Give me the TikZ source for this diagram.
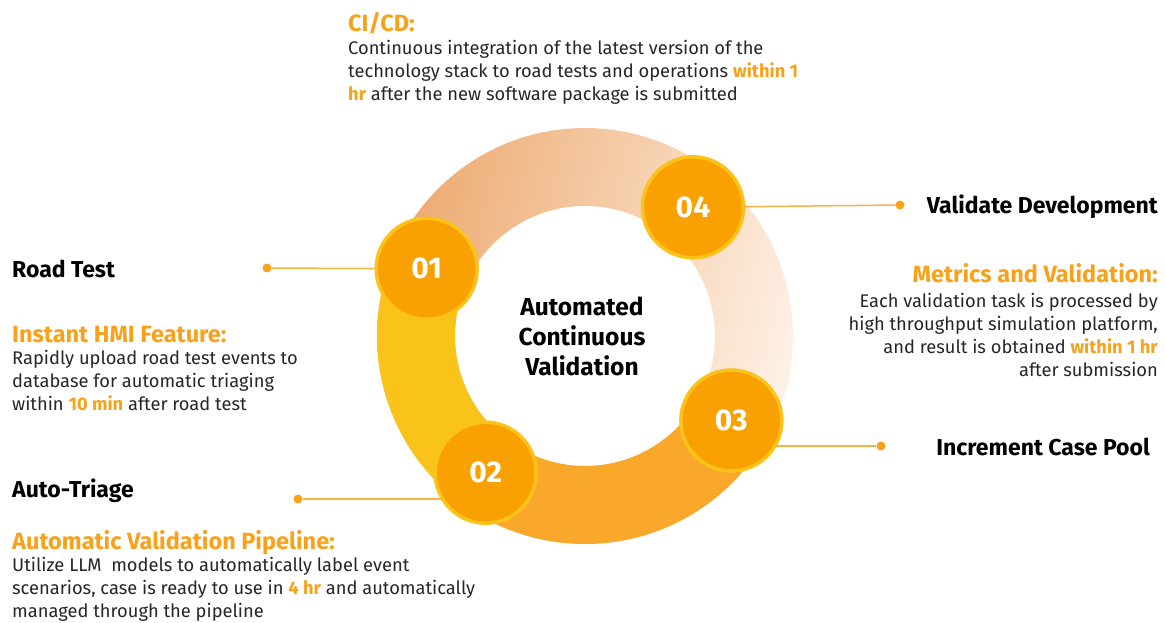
\documentclass[tikz,border=0pt]{standalone}
\usepackage{fontspec}
\setmainfont{Fira Sans}
\usetikzlibrary{backgrounds}

\definecolor{accent}{HTML}{F8A11B}
\definecolor{bodytext}{HTML}{262626}
\definecolor{ringyellow}{HTML}{F9C31A}
\definecolor{ringorange}{HTML}{F9A82B}
\definecolor{ringdark}{HTML}{EDAA70}
\definecolor{ringlight}{HTML}{FDF1E6}
\definecolor{circfill}{HTML}{F9A003}
\definecolor{circborder}{HTML}{FBC31A}
\definecolor{linkcol}{HTML}{F9B24A}

\newcommand{\hilite}[1]{\textbf{\textcolor{accent}{#1}}}

\begin{document}
\begin{tikzpicture}[x=1pt, y=-1pt,
    numcircle/.style={circle, fill=circfill, draw=circborder, line width=3.5pt,
        minimum size=101pt, inner sep=0pt, text=white,
        font=\bfseries\fontsize{30}{30}\selectfont},
    dot/.style={circle, fill=accent, inner sep=0pt, minimum size=9pt},
    link/.style={draw=linkcol, line width=1.5pt},
    heading/.style={font=\bfseries\fontsize{23}{27}\selectfont, text=black, inner sep=0pt},
    title/.style={font=\bfseries\fontsize{23.5}{27}\selectfont, text=accent, inner sep=0pt},
    body/.style={font=\fontsize{18.3}{23}\selectfont, text=bodytext, inner sep=0pt},
]
    %\draw[lightgray] (0, 0) grid[step=50] (1165, 623);
    \useasboundingbox (0, 0) rectangle (1165, 623);
    \coordinate (c) at (585, 336);

    % ring
    \begin{pgfonlayer}{background}
        \shade[even odd rule, left color=ringdark, right color=ringlight, shading angle=75]
            (c) circle[radius=208] (c) circle[radius=130];
        \draw[line width=78pt, ringyellow] (c) ++(-157:169) arc[start angle=-157, end angle=-234, radius=169];
        \draw[line width=78pt, ringorange] (c) ++(-234:169) arc[start angle=-234, end angle=-330, radius=169];
    \end{pgfonlayer}

    \path (c) ++(-157:172) node[numcircle] (n1) {01};
    \path (c) ++(126:169) node[numcircle] (n2) {02};
    \path (c) ++(30:169) node[numcircle] (n3) {03};
    \path (c) ++(-50:168) node[numcircle] (n4) {04};

    \node[font=\bfseries\fontsize{24.5}{30}\selectfont, align=center, inner sep=0pt] (center) at (582, 336) {Automated\\Continuous\\Validation};

    \node[dot] (d1) at (267, 268) {};
    \node[dot] (d2) at (298, 499) {};
    \node[dot] (d3) at (881, 446) {};
    \node[dot] (d4) at (900, 205) {};

    \begin{pgfonlayer}{background}
        \draw[link] (d1) -- (n1);
        \draw[link] (d2) -- (d2 -| n2);
        \draw[link] (d3) -- (d3 -| n3);
        \draw[link] (d4) -- (n4);
    \end{pgfonlayer}

    % CI/CD
    \node[title, anchor=base west] (cicd) at (348, 32) {CI/CD:};
    \node[body, anchor=north west, align=left] (cicdtext) at (348, 40) {Continuous integration of the latest version of the\\technology stack to road tests and operations \hilite{within 1}\\\hilite{hr} after the new software package is submitted};

    % left side
    \node[heading, anchor=base west] (roadtest) at (12, 277) {Road Test};
    \node[title, anchor=base west] (hmi) at (12, 342) {Instant HMI Feature:};
    \node[body, anchor=north west, align=left] (hmitext) at (12, 350) {Rapidly upload road test events to\\database for automatic triaging\\within \hilite{10 min} after road test};

    \node[heading, anchor=base west] (triage) at (12, 497) {Auto-Triage};
    \node[title, anchor=base west] (pipeline) at (12, 549) {Automatic Validation Pipeline:};
    \node[body, anchor=north west, align=left] (pipelinetext) at (12, 557) {Utilize LLM~~models to automatically label event\\scenarios, case is ready to use in \hilite{4 hr} and automatically\\managed through the pipeline};

    % right side
    \node[heading, anchor=base east] (validate) at (1158, 213) {Validate Development};
    \node[title, anchor=base east] (metrics) at (1158, 282) {Metrics and Validation:};
    \node[body, anchor=north east, align=right] (metricstext) at (1158, 293) {Each validation task is processed by\\high throughput simulation platform,\\and result is obtained \hilite{within 1 hr}\\after submission};

    \node[heading, anchor=base east] (casepool) at (1150, 455) {Increment Case Pool};
\end{tikzpicture}
\end{document}
